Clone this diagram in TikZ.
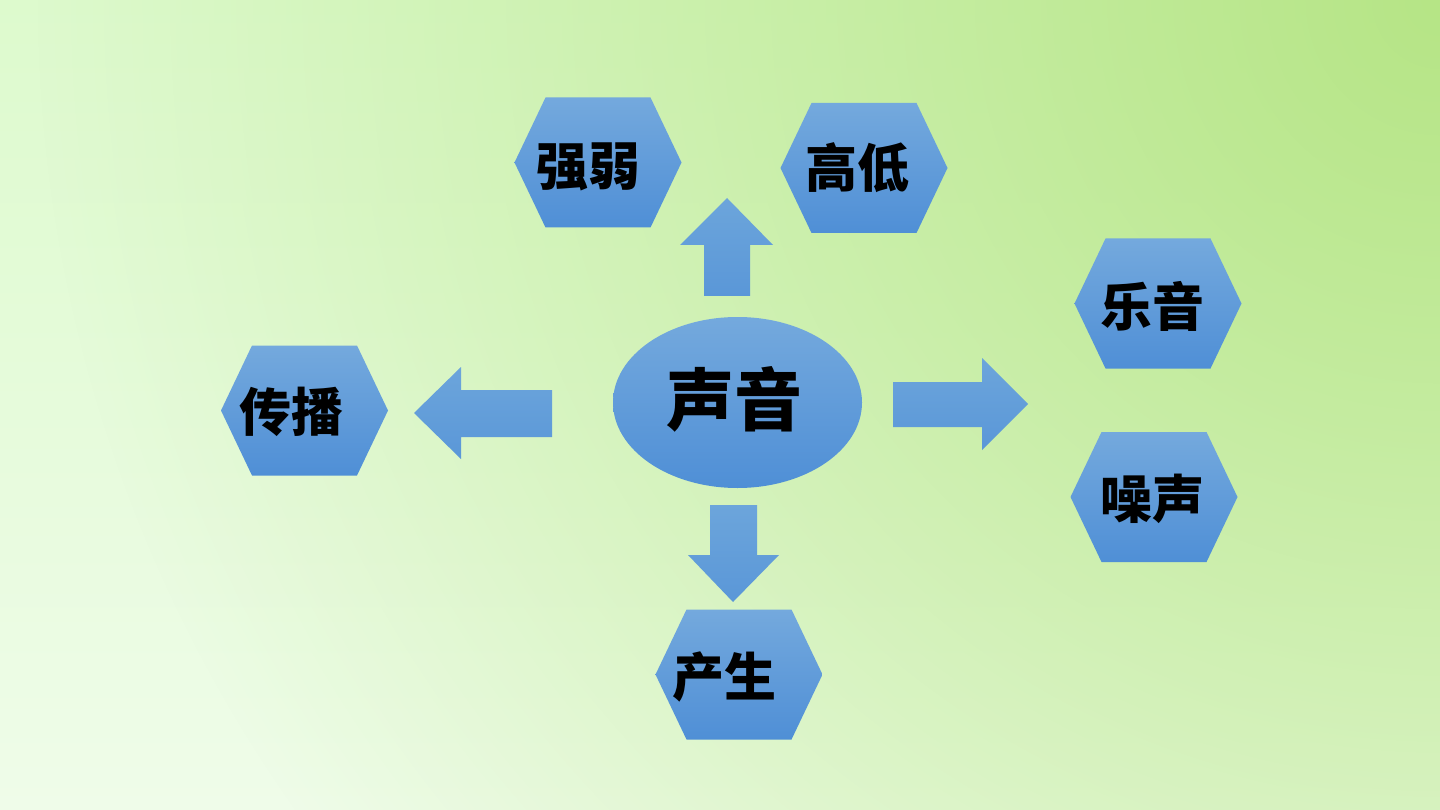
\documentclass[tikz,border=0pt]{standalone}
\usepackage{fontspec}
\newfontfamily\cjk{Noto Sans CJK SC}
\usetikzlibrary{shapes.geometric,fadings}
\definecolor{bgTR}{HTML}{B6E586}
\definecolor{bgTop}{HTML}{DDFACD}
\definecolor{bgBot}{HTML}{EFFCE9}
\definecolor{hexT}{HTML}{74A9DD}
\definecolor{hexB}{HTML}{4F8FD6}
\definecolor{arrT}{HTML}{6CA5DB}
\definecolor{arrB}{HTML}{5A97D8}
\tikzfading[name=radfade, inner color=transparent!0, outer color=transparent!100]
\tikzset{
  hexshade/.style={top color=hexT, bottom color=hexB},
  arrshade/.style={top color=arrT, bottom color=arrB},
  hexa/.pic={\shade[hexshade] (-83.5,0) -- (-52.5,-65) -- (52.5,-65) -- (83.5,0) -- (52.5,65) -- (-52.5,65) -- cycle;},
  hextext/.style={inner sep=0pt, font=\cjk\bfseries\fontsize{52}{52}\selectfont, text=black},
  maintext/.style={inner sep=0pt, font=\cjk\bfseries\fontsize{68}{68}\selectfont, text=black}
}
\begin{document}
\begin{tikzpicture}[x=1pt,y=-1pt]
\useasboundingbox (0,0) rectangle (1440,810);
\shade[top color=bgTop, bottom color=bgBot] (0,0) rectangle (1440,810);
\begin{scope}
\clip (0,0) rectangle (1440,810);
\fill[bgTR, path fading=radfade] (1440,0) circle[radius=1400];
\end{scope}

% block arrows
\shade[arrshade] (704,296) -- (704,245) -- (680,245) -- (727,198) -- (773,245) -- (750,245) -- (750,296) -- cycle;
\shade[arrshade] (552,390) -- (461,390) -- (461,367) -- (414,413) -- (461,459) -- (461,437) -- (552,437) -- cycle;
\shade[arrshade] (893,382) -- (982,382) -- (982,358) -- (1028,404) -- (982,450) -- (982,427) -- (893,427) -- cycle;
\shade[arrshade] (710,505) -- (757,505) -- (757,555) -- (779,555) -- (733,602) -- (688,555) -- (710,555) -- cycle;

% central ellipse
\node[ellipse, hexshade, minimum width=249pt, minimum height=171pt, inner sep=0pt] (center) at (737.5,402.5) {};
\node[maintext] (shengyin) at (734,399) {声音};

% hexagons
\pic at (598,162.5) {hexa};
\pic at (864,168) {hexa};
\pic at (1158,303.5) {hexa};
\pic at (1154,497) {hexa};
\pic at (304.5,410.5) {hexa};
\pic at (739,674.5) {hexa};

\node[hextext] (qiangruo) at (588,167) {强弱};
\node[hextext] (gaodi) at (857,168) {高低};
\node[hextext] (yueyin) at (1152,306) {乐音};
\node[hextext] (zaosheng) at (1152,499) {噪声};
\node[hextext] (chuanbo) at (291,412) {传播};
\node[hextext] (chansheng) at (724,677) {产生};
\end{tikzpicture}
\end{document}
